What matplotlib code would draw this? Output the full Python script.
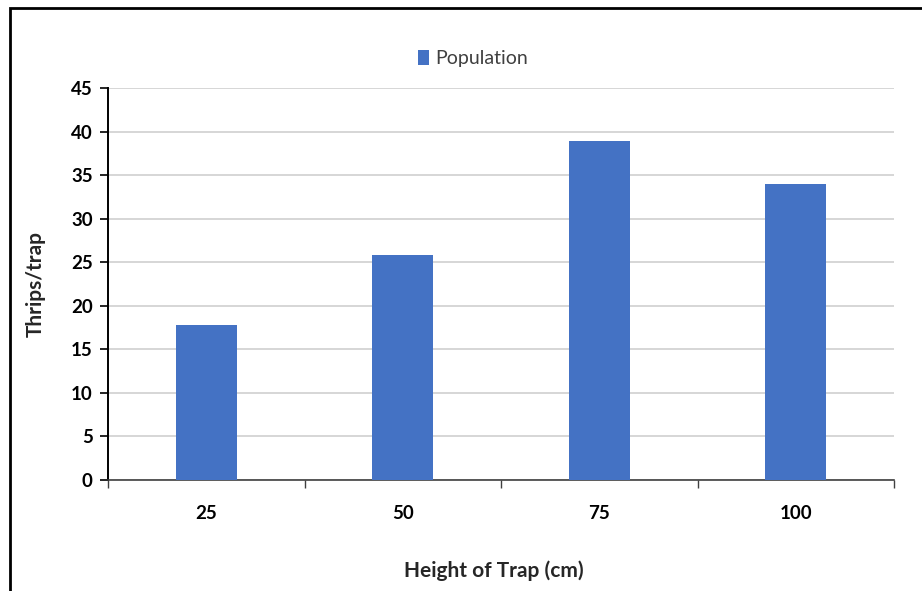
import matplotlib.pyplot as plt
from matplotlib.patches import Rectangle

plt.rcParams['font.family'] = ['Lato', 'DejaVu Sans']

heights = ['25', '50', '75', '100']
population = [17.8, 25.8, 38.9, 34.0]

fig = plt.figure(figsize=(9.22, 5.91), dpi=100)
ax = fig.add_axes([108 / 922, 1 - 480 / 591, (894 - 108) / 922, (480 - 88) / 591])

x = range(len(heights))
ax.bar(x, population, width=0.31, color='#4472C4', label='Population', zorder=3)

ax.set_xlim(-0.5, len(heights) - 0.5)
ax.set_ylim(0, 45)
ax.set_yticks(range(0, 46, 5))
ax.set_xticks(list(x))
ax.set_xticklabels(heights)
ax.set_xticks([i - 0.5 for i in range(len(heights) + 1)], minor=True)

ax.grid(axis='y', color='#d0d0d0', linewidth=1.2, zorder=0)
for side in ['top', 'right']:
    ax.spines[side].set_visible(False)
ax.spines['left'].set_color('black')
ax.spines['bottom'].set_color('#404040')
ax.spines['left'].set_linewidth(1.4)
ax.spines['bottom'].set_linewidth(1.2)

ax.tick_params(axis='y', length=6, width=1.2, labelsize=13.5, pad=5)
ax.tick_params(axis='x', which='major', length=0, labelsize=13.5, pad=18)
ax.tick_params(axis='x', which='minor', length=6, width=1, color='#404040')
for lbl in ax.get_xticklabels() + ax.get_yticklabels():
    lbl.set_fontweight('bold')

ax.set_ylabel('Thrips/trap', fontsize=15, fontweight='bold', color='#262626')
ax.yaxis.set_label_coords(-62 / 786, 0.5)
ax.set_xlabel('Height of Trap (cm)', fontsize=15, fontweight='bold', color='#262626')
ax.xaxis.set_label_coords(0.495 - 3 / 786, -80 / 392)

leg = ax.legend(loc='center', bbox_to_anchor=(0.464, 1.075), frameon=False,
                fontsize=14, handlelength=0.6, handleheight=0.85, handletextpad=0.3)
for t in leg.get_texts():
    t.set_color('#404040')

# outer chart border
fig.patches.append(Rectangle((10 / 922, -0.1), 1.2, 1 - 8 / 591 + 0.1,
                             transform=fig.transFigure, fill=False,
                             edgecolor='black', linewidth=2))

fig.savefig('out.png', dpi=100)
